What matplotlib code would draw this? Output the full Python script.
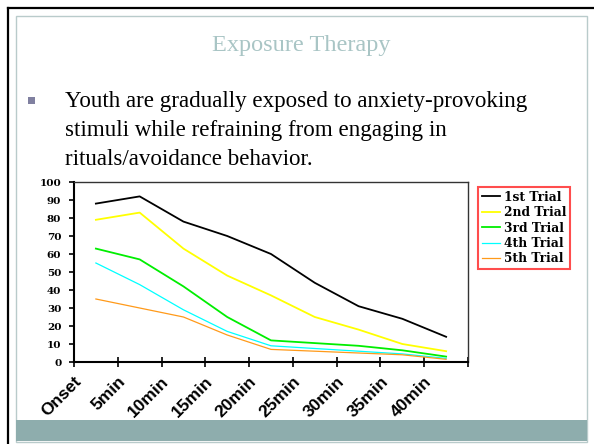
import matplotlib
matplotlib.use('Agg')

import numpy as np
import matplotlib.pyplot as plt
from matplotlib import transforms
from matplotlib.patches import Rectangle
from matplotlib.lines import Line2D

categories = ['Onset', '5min', '10min', '15min', '20min', '25min', '30min', '35min', '40min']
trial1 = [88, 92, 78, 70, 60, 44, 31, 24, 14]
trial2 = [79, 83, 63, 48, 37, 25, 18, 10, 6]
trial3 = [63, 57, 42, 25, 12, 10.5, 9, 6.5, 3]
trial4 = [55, 43, 29, 17, 9, 7.5, 6, 4.5, 2]
trial5 = [35, 30, 25, 15, 7, 6, 5, 4, 1.5]
labels = ['1st Trial', '2nd Trial', '3rd Trial', '4th Trial', '5th Trial']
yticks = list(range(0, 101, 10))
body = ['Youth are gradually exposed to anxiety-provoking',
        'stimuli while refraining from engaging in',
        'rituals/avoidance behavior.']

W, H = 594, 444
fig = plt.figure(figsize=(W / 100, H / 100), dpi=100)

def px(x, y):
    # pixel (from top-left) -> figure fraction
    return x / W, 1 - y / H

# slide decorations
fig.add_artist(Line2D([8 / W, 1], [1 - 8 / H] * 2, color='black', lw=1.6, transform=fig.transFigure))
fig.add_artist(Line2D([8 / W] * 2, [0, 1 - 8 / H], color='black', lw=1.6, transform=fig.transFigure))
fig.add_artist(Rectangle(px(16, 442), (587 - 16) / W, (442 - 16) / H, transform=fig.transFigure,
                         fill=False, ec='#b9cbcb', lw=1.0))
fig.add_artist(Rectangle(px(16, 441), (587 - 16) / W, 21 / H, transform=fig.transFigure,
                         fc='#8eadad', ec='none'))

fig.text(*px(301, 51), 'Exposure Therapy', ha='center', va='baseline',
         family='Liberation Serif', fontsize=17.5, color='#a9c5c5')
fig.add_artist(Rectangle(px(28, 104), 7 / W, 7 / H, transform=fig.transFigure,
                         fc='#8080a0', ec='none'))
for i, line in enumerate(body):
    fig.text(*px(65, 107 + 29 * i), line, ha='left', va='baseline',
             family='Liberation Serif', fontsize=16.6, color='black')

# chart
ax = fig.add_axes([74 / W, 1 - 362 / H, (468 - 74) / W, (362 - 182) / H])
x = np.arange(len(categories)) + 0.5
series = [trial1, trial2, trial3, trial4, trial5]
colors = ['black', '#ffff00', '#00ee00', '#00ffff', '#ff9a1a']
widths = [1.3, 1.3, 1.3, 0.9, 0.9]
for s, c, w, lab in zip(series, colors, widths, labels):
    ax.plot(x, s, color=c, lw=w, label=lab)

ax.set_xlim(0, len(categories))
ax.set_ylim(0, 100)
ax.set_xticks(np.arange(len(categories) + 1))
ax.set_xticklabels([])
ax.set_xticks(x, minor=True)
ax.set_xticklabels(categories, minor=True, rotation=45, ha='right', va='top',
                   rotation_mode='anchor', family='Liberation Sans',
                   fontweight='bold', fontsize=12.5)
ax.tick_params(axis='x', which='major', direction='inout', length=7, width=1.2)
ax.tick_params(axis='x', which='minor', length=0, pad=0)
off = transforms.ScaledTranslation(-0.22, -0.12, fig.dpi_scale_trans)
for t in ax.get_xticklabels(minor=True):
    t.set_transform(t.get_transform() + off)

ax.set_yticks(yticks)
ax.set_yticklabels([str(v) for v in yticks], family='DejaVu Serif',
                   fontweight='bold', fontsize=7.5)
ax.tick_params(axis='y', direction='out', length=3.6, width=1.2, pad=5.5)

for side in ['left', 'bottom']:
    ax.spines[side].set_linewidth(1.5)
for side in ['top', 'right']:
    ax.spines[side].set_linewidth(1.0)
    ax.spines[side].set_color('#333333')

leg = ax.legend(loc='upper left', bbox_to_anchor=px(478, 187),
                bbox_transform=fig.transFigure, borderaxespad=0,
                fancybox=False, handlelength=1.5, handletextpad=0.3,
                labelspacing=0.2, borderpad=0.3,
                prop={'family': 'DejaVu Serif', 'weight': 'bold', 'size': 8.8})
leg.get_frame().set_edgecolor('#ff2020')
leg.get_frame().set_linewidth(1.5)

fig.savefig('out.png', dpi=100)
